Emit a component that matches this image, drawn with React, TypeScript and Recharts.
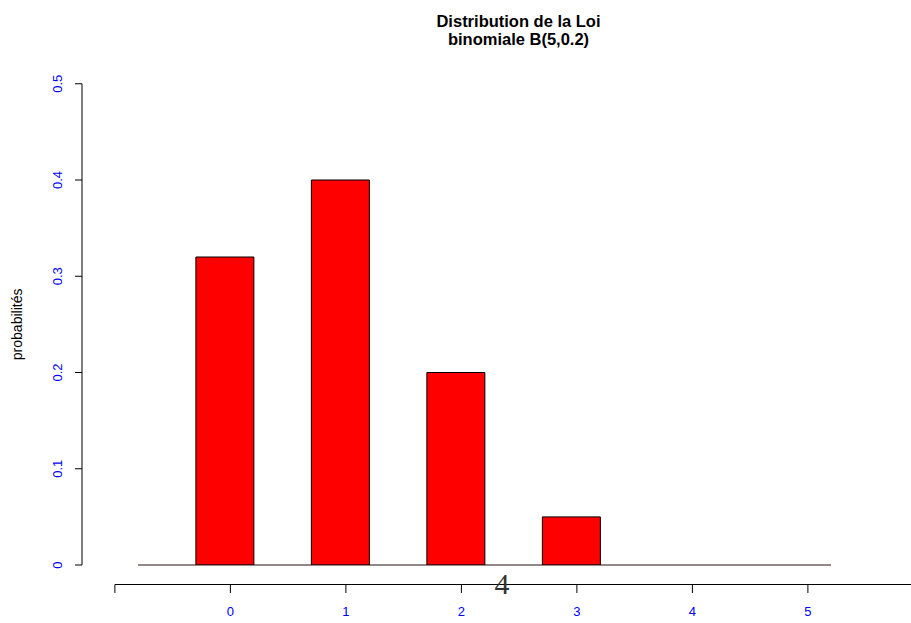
import React from 'react';
import { BarChart, Bar, XAxis, YAxis, ReferenceLine } from 'recharts';

// ---- data ----
const outcomes = [0, 1, 2, 3, 4, 5];
const probabilities = [0.32, 0.4, 0.2, 0.05, 0, 0];
const barPositions = [1.5, 3.5, 5.5, 7.5, 9.5, 11.5];
const baselineRange = [0, 12];
const xTickPositions = [-0.4, 1.6, 3.6, 5.6, 7.6, 9.6, 11.6];
const xTickLabels = ['', '0', '1', '2', '3', '4', '5'];
const yTicks = [0, 0.1, 0.2, 0.3, 0.4, 0.5];
const yTickLabels = ['0', '0.1', '0.2', '0.3', '0.4', '0.5'];
const titleLines = ['Distribution de la Loi', 'binomiale B(5,0.2)'];
const yLabel = 'probabilités';
const strayText = '4';

const data = outcomes.map((k, i) => ({ k, pos: barPositions[i], prob: probabilities[i] }));

const W = 911;
const H = 623;
const SANS = '"Liberation Sans", Arial, Helvetica, sans-serif';
const BLUE = '#0000FF';
const X_AXIS_Y = 584.5;

const XTick = (props: any) => {
  const { x, payload } = props;
  const i = xTickPositions.indexOf(payload.value);
  return (
    <g>
      {i === 0 && <line x1={x} y1={X_AXIS_Y} x2={W} y2={X_AXIS_Y} stroke="#000" strokeWidth={1} />}
      <line x1={x} y1={X_AXIS_Y} x2={x} y2={593} stroke="#000" strokeWidth={1} />
      <text x={x} y={616} textAnchor="middle" fill={BLUE} fontSize={13} fontFamily={SANS}>
        {xTickLabels[i]}
      </text>
    </g>
  );
};

const YTick = (props: any) => {
  const { y, payload } = props;
  const i = yTicks.indexOf(payload.value);
  const bx = 61.5;
  return (
    <text
      x={bx}
      y={y}
      transform={`rotate(-90, ${bx}, ${y})`}
      textAnchor="middle"
      fill={BLUE}
      fontSize={13}
      fontFamily={SANS}
    >
      {yTickLabels[i]}
    </text>
  );
};

const YLabel = (props: any) => {
  const vb = props.viewBox || { x: 0, y: 83.75, width: 82, height: 481.25 };
  const cy = vb.y + vb.height / 2;
  const bx = 21.5;
  return (
    <text
      x={bx}
      y={cy}
      transform={`rotate(-90, ${bx}, ${cy})`}
      textAnchor="middle"
      fill="#000"
      fontSize={14}
      fontFamily={SANS}
    >
      {yLabel}
    </text>
  );
};

export default function App() {
  return (
    <div style={{ position: 'absolute', left: 0, top: 0, width: W, height: H, background: '#fff' }}>
      <BarChart
        width={W}
        height={H}
        data={data}
        margin={{ top: 83.75, right: 0, bottom: 0, left: 0 }}
      >
        <XAxis
          dataKey="pos"
          type="number"
          domain={[-0.9697, 13.3853]}
          allowDataOverflow
          ticks={xTickPositions}
          interval={0}
          axisLine={false}
          tickLine={false}
          height={58}
          tick={<XTick />}
        />
        <YAxis
          type="number"
          domain={[0, 0.5]}
          allowDataOverflow
          ticks={yTicks}
          interval={0}
          width={82}
          tickSize={7}
          axisLine={{ stroke: '#000', strokeWidth: 1 }}
          tickLine={{ stroke: '#000', strokeWidth: 1 }}
          tick={<YTick />}
          label={{ content: (p: any) => <YLabel {...p} /> }}
        />
        <ReferenceLine
          segment={[
            { x: baselineRange[0], y: 0 },
            { x: baselineRange[1], y: 0 },
          ]}
          stroke="#2a1010"
          strokeWidth={1}
        />
        <Bar
          dataKey="prob"
          fill="#FF0000"
          stroke="#000"
          strokeWidth={1}
          barSize={58}
          isAnimationActive={false}
        />
      </BarChart>
      <svg
        width={W}
        height={H}
        style={{ position: 'absolute', left: 0, top: 0, pointerEvents: 'none' }}
      >
        <text x={518.5} y={27} textAnchor="middle" fontWeight="bold" fontSize={16.5} fontFamily={SANS} fill="#000">
          {titleLines[0]}
        </text>
        <text x={518.5} y={45} textAnchor="middle" fontWeight="bold" fontSize={16.5} fontFamily={SANS} fill="#000">
          {titleLines[1]}
        </text>
        <text x={502} y={594} textAnchor="middle" fontSize={30} fontFamily={'"Liberation Serif", "Times New Roman", serif'} fill="#333">
          {strayText}
        </text>
      </svg>
    </div>
  );
}
